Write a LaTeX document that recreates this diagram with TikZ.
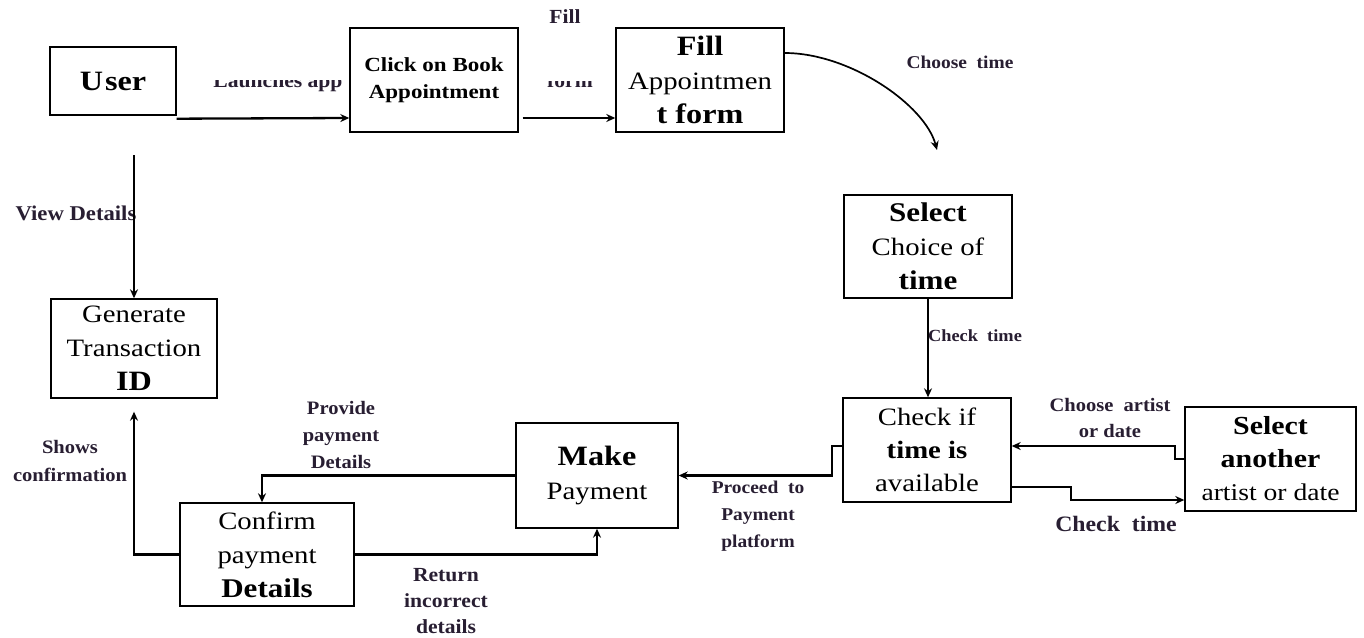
\documentclass[tikz,border=0pt]{standalone}
\usepackage{fontspec}
\setmainfont{Liberation Serif}
\newfontfamily\boxfont[FakeStretch=1.15]{Liberation Serif}
\newfontfamily\lblfont[FakeStretch=1.08]{Liberation Serif}
\usetikzlibrary{arrows.meta,calc}
\definecolor{lblcol}{RGB}{40,30,50}
\tikzset{
  box/.style={draw, line width=1.4pt, rectangle, align=center, inner sep=0pt,
    font=\boxfont\fontsize{25}{34}\selectfont},
  lbl/.style={font=\lblfont\bfseries\fontsize{20}{27}\selectfont, align=center,
    text=lblcol, inner sep=0pt},
  arr/.style={line width=2.3pt, -{Stealth[length=9pt,width=8pt]}},
  varr/.style={line width=1.7pt, -{Stealth[length=9pt,width=8pt]}}
}
\begin{document}
\begin{tikzpicture}[x=1pt,y=-1pt]
\useasboundingbox (0,0) rectangle (1364,637);
\fill[white] (0,0) rectangle (1364,637);

% boxes
\node[box, minimum width=126pt, minimum height=68pt] (user) at (113,81)
  {\fontsize{28}{32}\selectfont\bfseries U\kern2pt ser};
\node[box, minimum width=168pt, minimum height=104pt, font=\boxfont\fontsize{20}{27}\selectfont] (click) at (434,80)
  {\bfseries Click on Book\\ \bfseries Appointment};
\node[box, minimum width=168pt, minimum height=104pt] (fill) at (700,80)
  {{\bfseries\fontsize{28}{34}\selectfont Fill}\\ Appointmen\\ {\bfseries\fontsize{28}{34}\selectfont t form}};
\node[box, minimum width=168pt, minimum height=103pt] (select) at (928,246.5)
  {{\bfseries\fontsize{27}{34}\selectfont Select}\\ Choice of\\ {\bfseries\fontsize{27}{34}\selectfont time}};
\node[box, minimum width=168pt, minimum height=104pt, font=\boxfont\fontsize{25}{33}\selectfont] (check) at (927,450)
  {Check if\\ {\bfseries time is}\\ available};
\node[box, minimum width=171pt, minimum height=104pt, font=\boxfont\fontsize{24}{33}\selectfont] (another) at (1270.5,459)
  {{\bfseries\fontsize{26}{33}\selectfont Select}\\ {\bfseries\fontsize{26}{33}\selectfont another}\\ artist or date};
\node[box, minimum width=162pt, minimum height=105pt] (make) at (597,475.5)
  {{\bfseries\fontsize{28}{35}\selectfont Make}\\ Payment};
\node[box, minimum width=174pt, minimum height=103pt] (confirm) at (267,554.5)
  {Confirm\\ payment\\ {\bfseries\fontsize{27}{34}\selectfont Details}};
\node[box, minimum width=166pt, minimum height=99pt] (gen) at (134,348.5)
  {Generate\\ Transaction\\ {\bfseries\fontsize{28}{34}\selectfont ID}};

% labels
\begin{scope}
  \clip (190,80) rectangle (352,100);
  \node[lbl, anchor=base] (llaunch) at (278,87) {Launches app};
\end{scope}
\begin{scope}
  \clip (540,81) rectangle (600,100);
  \node[lbl, anchor=base] (lform) at (570,87) {form};
\end{scope}
\node[lbl] (lfill) at (565,17) {Fill};
\node[lbl, font=\lblfont\bfseries\fontsize{18}{24}\selectfont] (lchoose) at (960,62) {Choose\ \ time};
\node[lbl, font=\lblfont\bfseries\fontsize{21}{27}\selectfont] (lview) at (76,213) {View\ Details};
\node[lbl, font=\lblfont\bfseries\fontsize{17}{24}\selectfont] (lcheck1) at (975,336) {Check\ \ time};
\node[lbl, font=\lblfont\bfseries\fontsize{19}{26}\selectfont] (lartist) at (1110,418) {Choose\ \ artist\\ or date};
\node[lbl, font=\lblfont\bfseries\fontsize{22}{26}\selectfont] (lcheck2) at (1116,524) {Check\ \ time};
\node[lbl, font=\lblfont\bfseries\fontsize{18}{27}\selectfont] (lproceed) at (758,516) {Proceed\ \ to\\ Payment\\ platform};
\node[lbl, font=\lblfont\bfseries\fontsize{19}{27}\selectfont] (lprovide) at (341,435) {Provide\\ payment\\ Details};
\node[lbl, font=\lblfont\bfseries\fontsize{19}{28}\selectfont] (lshows) at (70,461) {Shows\\ confirmation};
\node[lbl, font=\lblfont\bfseries\fontsize{20}{26}\selectfont] (lreturn) at (446,601) {Return\\ incorrect\\ details};

% connectors
\draw[arr] ([yshift=-3pt]user.south east) -- ([yshift=-38pt]click.west);
\draw[arr] ([xshift=4pt,yshift=-38pt]click.east) -- ([yshift=-38pt]fill.west);
\coordinate (ct) at (937,150);
\draw[varr] ([yshift=27pt]fill.east) .. controls (850,53) and (925,105) .. (ct);
\draw[varr] (select.south) -- (select.south |- check.north);
\draw[arr] ([yshift=-37pt]check.east) -- ++(59,0) |- ([yshift=-41pt]another.west);
\draw[arr] (another.west) -- ++(-9,0) |- ([yshift=4pt]check.east);
\draw[arr] ([yshift=4pt]check.west) -- ++(-10,0) |- (make.east);
\draw[arr] (make.west) -| ([xshift=-5pt]confirm.north);
\draw[arr] (confirm.east) -| (make.south);
\draw[arr] (confirm.west) -| ([yshift=-13pt]gen.south);
\coordinate (vd) at (134,155);
\draw[varr] (vd) -- (gen.north);
\end{tikzpicture}
\end{document}
